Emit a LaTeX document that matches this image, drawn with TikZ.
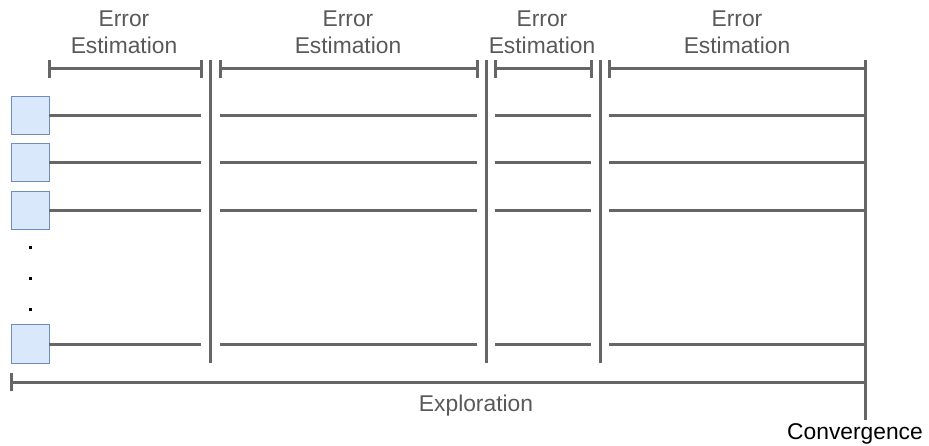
\documentclass[tikz,border=0pt]{standalone}
\usepackage{fontspec}
\setmainfont{Liberation Sans}
\definecolor{ln}{HTML}{666666}
\definecolor{txt}{HTML}{595959}
\definecolor{bxfill}{HTML}{DAE8FC}
\definecolor{bxdraw}{HTML}{6C8EBF}
\begin{document}
\begin{tikzpicture}[x=1pt,y=-1pt,
  bar/.style={draw=ln,line width=3pt},
  lane/.style={draw=ln,line width=3pt},
  agent/.style={draw=bxdraw,fill=bxfill,line width=1pt,minimum size=38pt,inner sep=0pt,outer sep=0pt},
  lbl/.style={font=\fontsize{22.8}{27}\selectfont,text=txt,align=center,anchor=base,inner sep=0pt},
  dot/.style={fill=black,minimum size=3pt,inner sep=0pt}]
\useasboundingbox (0,0) rectangle (929,446);
% labels
\node[lbl] (l1) at (124,54) {Error\\Estimation};
\node[lbl] (l2) at (348,54) {Error\\Estimation};
\node[lbl] (l3) at (542,54) {Error\\Estimation};
\node[lbl] (l4) at (737,54) {Error\\Estimation};
% coordinates of brackets
\foreach \n/\a/\b in {1/49/201, 2/220/477, 3/495/591, 4/609/865}{
  \coordinate (bl\n) at (\a,69);
  \coordinate (br\n) at (\b,69);
  \draw[bar] (bl\n) -- (br\n);
  \draw[bar] ([yshift=-9pt]bl\n) -- ([yshift=9pt]bl\n);
  \draw[bar] ([yshift=-9pt]br\n) -- ([yshift=9pt]br\n);
}
% vertical separators
\foreach \n/\x in {1/210, 2/486, 3/600}{
  \coordinate (vt\n) at (\x,60);
  \coordinate (vb\n) at (\x,363);
  \draw[bar] (vt\n) -- (vb\n);
}
\coordinate (ct) at (865,60);
\coordinate (cb) at (865,420);
\draw[bar] (ct) -- (cb);
% agents
\foreach \n/\y in {1/116, 2/163, 3/211, 4/344}{
  \node[agent] (s\n) at (30,\y) {};
  \coordinate (a\n) at (201,\y); \coordinate (b\n) at (220,\y);
  \coordinate (c\n) at (477,\y); \coordinate (d\n) at (495,\y);
  \coordinate (e\n) at (591,\y); \coordinate (f\n) at (609,\y);
  \coordinate (g\n) at (865,\y);
  \draw[lane] (s\n.east) -- (a\n);
  \draw[lane] (b\n) -- (c\n);
  \draw[lane] (d\n) -- (e\n);
  \draw[lane] (f\n) -- (g\n);
}
% dots
\node[dot] (d1) at (30,248) {};
\node[dot] (d2) at (30,279) {};
\node[dot] (d3) at (30,310) {};
% exploration bracket
\coordinate (xl) at (11,382);
\coordinate (xr) at (865,382);
\draw[bar] (xl) -- (xr);
\draw[bar] ([yshift=-9pt]xl) -- ([yshift=9pt]xl);
\draw[bar] ([yshift=-9pt]xr) -- ([yshift=9pt]xr);
\node[lbl] (ex) at (476,411) {Exploration};
\node[lbl,text=black,anchor=base east] (cv) at (923,439) {Convergence};
\end{tikzpicture}
\end{document}
